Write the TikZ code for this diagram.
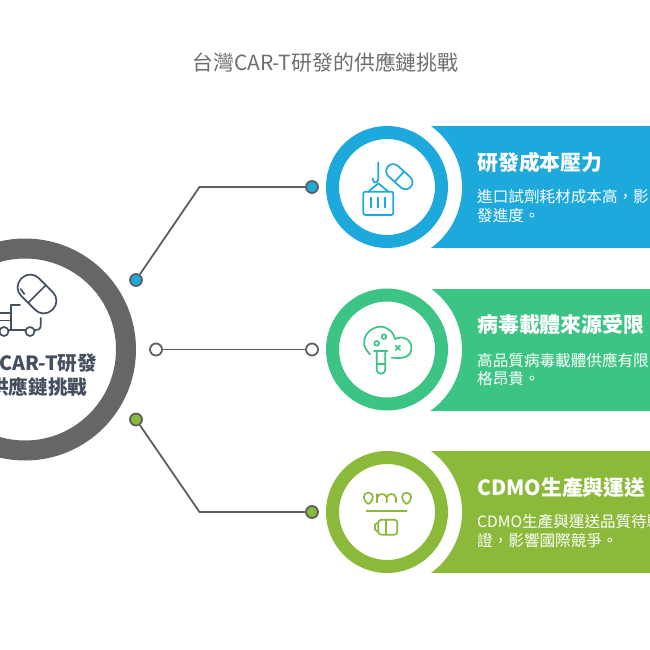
\documentclass[tikz,border=0pt]{standalone}
\usepackage{fontspec}
\setmainfont{Noto Sans CJK TC}
\definecolor{cblue}{HTML}{1EA9DC}
\definecolor{cgreen}{HTML}{3CC484}
\definecolor{clime}{HTML}{8BB93A}
\definecolor{cring}{HTML}{666666}
\definecolor{cline}{HTML}{5E5E5E}
\definecolor{cnavy}{HTML}{444F60}
\definecolor{ctitle}{HTML}{6E6E6E}
\tikzset{
  banner/.style={fill=#1,draw=none,minimum width=250pt,minimum height=122pt,inner sep=0pt},
  gapdisc/.style={circle,fill=white,draw=none,minimum size=150pt,inner sep=0pt},
  ringnode/.style={circle,draw=#1,fill=white,line width=13pt,minimum size=109pt,inner sep=0pt},
  dotnode/.style={circle,draw=cline,fill=#1,line width=1.8pt,minimum size=12pt,inner sep=0pt},
  wire/.style={draw=cline,line width=1.8pt,line join=miter},
  headtext/.style={anchor=west,inner sep=0pt,text=white,font=\fontsize{20.9}{23}\selectfont\bfseries},
  bodytext/.style={anchor=west,inner sep=0pt,text=white,font=\fontsize{15.6}{18}\selectfont},
  iconline/.style={line width=1.7pt,line cap=round,line join=round},
}
\begin{document}
\begin{tikzpicture}[x=1pt,y=-1pt]
\useasboundingbox (0,0) rectangle (650,650);
\clip (0,0) rectangle (650,650);
\fill[white] (0,0) rectangle (650,650);
\node[inner sep=0pt,text=ctitle,font=\fontsize{20.9}{23}\selectfont] (title) at (325.5,62) {台灣CAR-T研發的供應鏈挑戰};

% banners
\node[banner=cblue] (b1) at (525,187) {};
\node[banner=cgreen] (b2) at (525,349.5) {};
\node[banner=clime] (b3) at (525,512) {};
\node[gapdisc] (g1) at (387,187) {};
\node[gapdisc] (g2) at (387,349.5) {};
\node[gapdisc] (g3) at (387,512) {};
\node[ringnode=cblue] (r1) at (387,187) {};
\node[ringnode=cgreen] (r2) at (387,349.5) {};
\node[ringnode=clime] (r3) at (387,512) {};

% centre ring
\node[circle,draw=cring,fill=white,line width=20pt,minimum size=202pt,inner sep=0pt] (hub) at (25,349.5) {};
\node[anchor=east,inner sep=0pt,text=cnavy,font=\fontsize{19.6}{22}\selectfont\bfseries] (hub1) at (97,363) {CAR-T研發};
\node[anchor=east,inner sep=0pt,text=cnavy,font=\fontsize{19.6}{22}\selectfont\bfseries] (hub2) at (87.5,387) {供應鏈挑戰};

% dots and connectors
\node[dotnode=cblue] (d1) at (136,280) {};
\node[dotnode=white] (d2) at (156,349.5) {};
\node[dotnode=clime] (d3) at (136,419.5) {};
\node[dotnode=cblue] (e1) at (312,187) {};
\node[dotnode=white] (e2) at (312,349.5) {};
\node[dotnode=clime] (e3) at (312,512) {};
\coordinate (k1) at (199.5,187);
\coordinate (k3) at (199.5,512);
\draw[wire] (d1) -- (k1) -- (e1);
\draw[wire] (d2) -- (e2);
\draw[wire] (d3) -- (k3) -- (e3);

% banner text
\node[headtext] (h1) at (477,163) {研發成本壓力};
\node[bodytext] (t1a) at (477,197) {進口試劑耗材成本高，影};
\node[bodytext] (t1b) at (477,216) {發進度。};
\node[headtext] (h2) at (477,325) {病毒載體來源受限};
\node[bodytext] (t2a) at (477,360) {高品質病毒載體供應有限};
\node[bodytext] (t2b) at (477,379) {格昂貴。};
\node[headtext] (h3) at (477,488) {CDMO生產與運送};
\node[bodytext] (t3a) at (477,522) {CDMO生產與運送品質待驗};
\node[bodytext] (t3b) at (477,541) {證，影響國際競爭。};

% hub icon (pill and truck)
\begin{scope}[draw=cnavy,iconline]
  \begin{scope}[shift={(37,294)},rotate=-45]
    \draw[rounded corners=12pt] (-22,-12.5) rectangle (22,12.5);
    \draw (0,-12.5) -- (0,12.5);
    \draw (-15,8) -- (-9,9);
  \end{scope}
  \draw (8.5,330) -- (25.5,330);
  \draw (34.5,330) .. controls (39,330) and (40.7,329) .. (40.7,325) -- (40.7,318);
  \draw (20,305) -- (11,305) -- (11,330);
  \draw (0,313) -- (11,313);
  \draw (0,320.5) -- (11,320.5);
  \draw (4,331.5) circle (4.5);
  \draw (30,331.5) circle (4.5);
\end{scope}

% icon 1
\begin{scope}[shift={(350,150)},x=0.3333pt,y=-0.3333pt,draw=cblue,iconline]
  \draw (85,38) -- (85,85) .. controls (85,102) and (68,102) .. (68,85);
  \draw (55,125) -- (85,100) -- (115,125);
  \draw[rounded corners=2pt] (40,125) rectangle (130,195);
  \draw (62,143) -- (62,172);
  \draw (83,143) -- (83,172);
  \draw (105,143) -- (105,172);
  \begin{scope}[shift={(148,80)},rotate=-42]
    \draw[rounded corners=7pt] (-46,-21) rectangle (46,21);
    \draw (0,-21) -- (0,21);
  \end{scope}
\end{scope}

% icon 2
\begin{scope}[shift={(350,315)},x=0.3333pt,y=-0.3333pt,draw=cgreen,iconline]
  \draw plot[smooth,tension=0.7] coordinates {(60,118) (43,90) (52,55) (88,35) (122,48) (135,72)};
  \draw plot[smooth,tension=0.7] coordinates {(135,72) (160,68) (182,85) (180,115) (158,128) (125,128)};
  \draw (72,107) -- (112,107);
  \draw (80,107) -- (80,160) .. controls (80,182) and (106,182) .. (106,160) -- (106,107);
  \draw (80,146) -- (106,146);
  \draw (80,85) circle[radius=7];
  \draw (102,65) circle[radius=7];
  \draw (137,92) -- (150,105);
  \draw (150,92) -- (137,105);
\end{scope}

% icon 3
\begin{scope}[shift={(350,478)},x=0.3333pt,y=-0.3333pt,draw=clime,iconline]
  \draw (55,78) .. controls (36,66) and (38,44) .. (55,44) .. controls (72,44) and (74,66) .. (55,78) -- cycle;
  \draw (170,78) .. controls (151,66) and (153,44) .. (170,44) .. controls (187,44) and (189,66) .. (170,78) -- cycle;
  \draw (82,73) -- (82,48);
  \draw (82,60) .. controls (82,44) and (110,44) .. (110,60) -- (110,73);
  \draw (110,60) .. controls (110,44) and (138,44) .. (138,60) -- (138,73);
  \draw[line width=2pt] (50,100) -- (170,100);
  \draw[rounded corners=3pt] (85,125) rectangle (142,170);
  \draw (108,125) -- (108,170);
  \draw (85,133) -- (75,140) -- (75,155) -- (85,162);
\end{scope}
\end{tikzpicture}
\end{document}
